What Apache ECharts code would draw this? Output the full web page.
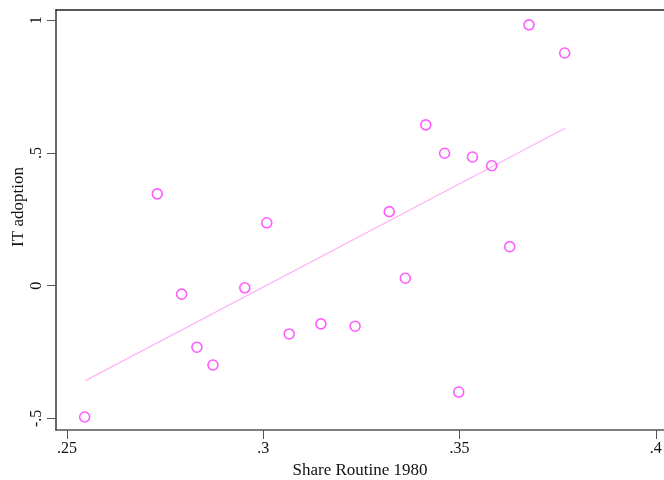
<!DOCTYPE html>
<html>
<head>
<meta charset="utf-8">
<script src="https://cdn.jsdelivr.net/npm/echarts@6/dist/echarts.min.js"></script>
<style>
  html, body { margin: 0; padding: 0; background: #fff; }
  #chart { width: 664px; height: 480px; }
</style>
</head>
<body>
<div id="chart"></div>
<script>
var shareRoutine = [0.2545, 0.2730, 0.2792, 0.2831, 0.2872, 0.2953, 0.3009, 0.3066, 0.3147, 0.3234,
                    0.3321, 0.3362, 0.3414, 0.3462, 0.3498, 0.3533, 0.3582, 0.3628, 0.3677, 0.3768];
var itAdoption = [-0.495, 0.346, -0.032, -0.232, -0.299, -0.008, 0.237, -0.182, -0.144, -0.153,
                  0.279, 0.028, 0.606, 0.499, -0.401, 0.485, 0.452, 0.147, 0.983, 0.877];
var fitX = [0.2547, 0.3769];
var fitY = [-0.358, 0.593];
var xTicks = [0.25, 0.3, 0.35, 0.4];
var yTicks = [-0.5, 0, 0.5, 1];

var chart = echarts.init(document.getElementById('chart'));

function stataLabel(v) {
  var s = String(Math.round(v * 100) / 100);
  return s.replace(/^0\./, '.').replace(/^-0\./, '-.');
}

var points = shareRoutine.map(function (x, i) { return [x, itAdoption[i]]; });
var fitLine = fitX.map(function (x, i) { return [x, fitY[i]]; });

var labelFont = { fontFamily: 'Liberation Serif', fontSize: 16, color: '#111' };
var nameFont = { fontFamily: 'Liberation Serif', fontSize: 17, color: '#111' };

var option = {
  animation: false,
  backgroundColor: '#fff',
  grid: { left: 56, right: 0, top: 10, bottom: 50, outerBoundsMode: 'none', containLabel: false },
  xAxis: [{
    type: 'value',
    min: 0.2472,
    max: 0.4021,
    name: 'Share Routine 1980',
    nameLocation: 'middle',
    nameGap: 31,
    nameTextStyle: nameFont,
    splitLine: { show: false },
    axisLine: { onZero: false, lineStyle: { color: '#555', width: 1.5 } },
    axisTick: { show: true, length: 9, customValues: xTicks, lineStyle: { color: '#555' } },
    axisLabel: Object.assign({ customValues: xTicks, margin: 11, formatter: stataLabel }, labelFont)
  }, {
    type: 'value',
    position: 'top',
    min: 0.2472,
    max: 0.4021,
    axisLine: { show: true, onZero: false, lineStyle: { color: '#222', width: 1.5 } },
    axisTick: { show: false },
    axisLabel: { show: false },
    splitLine: { show: false }
  }],
  yAxis: {
    type: 'value',
    min: -0.544,
    max: 1.039,
    name: 'IT adoption',
    nameLocation: 'middle',
    nameGap: 29,
    nameRotate: 90,
    nameMoveOverlap: false,
    nameTextStyle: Object.assign({ padding: [0, 0, 0, 26] }, nameFont),
    splitLine: { show: false },
    axisLine: { show: true, onZero: false, lineStyle: { color: '#333', width: 1.5 } },
    axisTick: { show: true, length: 9, customValues: yTicks, lineStyle: { color: '#555' } },
    axisLabel: Object.assign({ customValues: yTicks, rotate: 90, margin: 11, formatter: stataLabel }, labelFont)
  },
  series: [{
    type: 'line',
    data: fitLine,
    symbol: 'none',
    lineStyle: { color: '#ffb3f5', width: 1.2 },
    z: 2
  }, {
    type: 'scatter',
    data: points,
    symbol: 'circle',
    symbolSize: 10,
    itemStyle: { color: 'rgba(0,0,0,0)', borderColor: '#ff33ff', borderWidth: 1.6 },
    z: 3
  }]
};

chart.setOption(option);
</script>
</body>
</html>
